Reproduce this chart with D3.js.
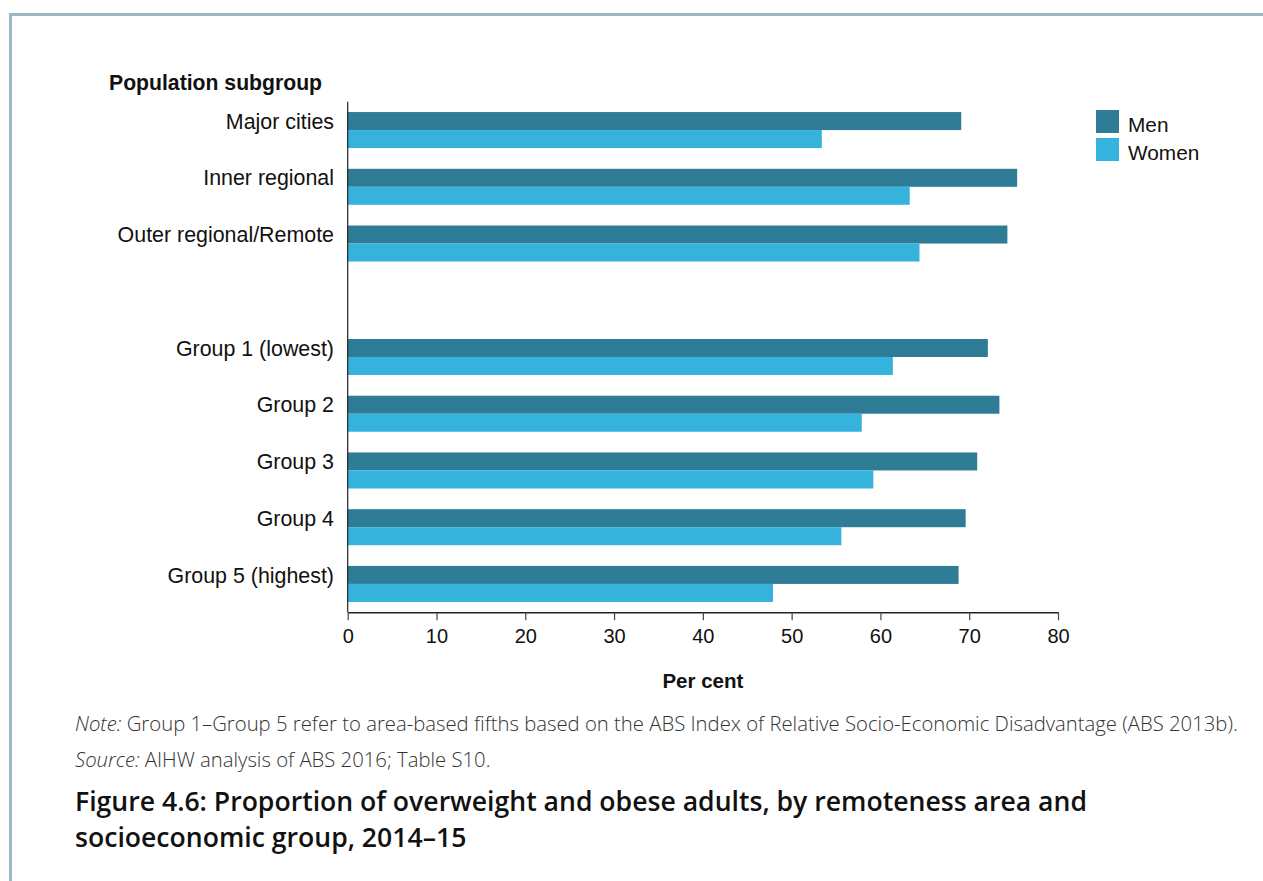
<!DOCTYPE html>
<html>
<head>
<meta charset="utf-8">
<script src="https://cdn.jsdelivr.net/npm/d3@7"></script>
<style>
  html, body { margin: 0; padding: 0; background: #fff; }
  svg { display: block; }
</style>
</head>
<body>
<svg id="chart" width="1263" height="881"></svg>
<script>
// ---- data ----
const slots = ["Major cities", "Inner regional", "Outer regional/Remote", "__gap__",
               "Group 1 (lowest)", "Group 2", "Group 3", "Group 4", "Group 5 (highest)"];
const categories = ["Major cities", "Inner regional", "Outer regional/Remote",
                    "Group 1 (lowest)", "Group 2", "Group 3", "Group 4", "Group 5 (highest)"];
const men   = [69.1, 75.4, 74.3, 72.1, 73.4, 70.9, 69.6, 68.8];
const women = [53.4, 63.3, 64.4, 61.4, 57.9, 59.2, 55.6, 47.9];
const seriesNames = ["Men", "Women"];
const xTicks = [0, 10, 20, 30, 40, 50, 60, 70, 80];

const colors = { Men: "#2e7c95", Women: "#36b3dc" };
const svg = d3.select("#chart");
const sans = "'Liberation Sans', Arial, sans-serif";
const open = "'Open Sans', sans-serif";

// border
svg.append("path")
  .attr("d", "M10.5,881 V14.5 H1263")
  .attr("fill", "none").attr("stroke", "#9fb6c6").attr("stroke-width", 3);

const x = d3.scaleLinear().domain([0, 80]).range([347.7, 1058]);
const y = d3.scaleBand().domain(slots).range([101.7, 612.3])
  .paddingInner(0.365).paddingOuter(0.1825);
const sub = d3.scaleBand().domain(seriesNames).range([0, y.bandwidth()]);

const data = categories.map((c, i) => ({ cat: c, Men: men[i], Women: women[i] }));

const g = svg.append("g");
const groups = g.selectAll("g.cat").data(data).join("g")
  .attr("class", "cat")
  .attr("transform", d => `translate(0,${y(d.cat)})`);
groups.selectAll("rect").data(d => seriesNames.map(s => ({ s, v: d[s] }))).join("rect")
  .attr("x", x(0))
  .attr("y", d => sub(d.s))
  .attr("width", d => x(d.v) - x(0))
  .attr("height", sub.bandwidth())
  .attr("fill", d => colors[d.s]);

// category labels (centered on men bar)
g.selectAll("text.cat").data(data).join("text")
  .attr("class", "cat")
  .attr("x", 334)
  .attr("y", d => y(d.cat) + sub("Men") + sub.bandwidth() / 2)
  .attr("dy", "0.36em")
  .attr("text-anchor", "end")
  .attr("font-family", sans).attr("font-size", 21.4).attr("fill", "#111")
  .text(d => d.cat);

// y axis line
svg.append("line")
  .attr("x1", x(0)).attr("x2", x(0))
  .attr("y1", 101.7).attr("y2", 612.3)
  .attr("stroke", "#222").attr("stroke-width", 1.2);

// x axis
const xAxis = svg.append("g")
  .attr("transform", "translate(0,612.3)")
  .call(d3.axisBottom(x).tickValues(xTicks).tickSize(8).tickPadding(9).tickSizeOuter(0));
xAxis.select(".domain").attr("stroke", "#222").attr("stroke-width", 1.4);
xAxis.selectAll(".tick line").attr("stroke", "#444").attr("stroke-width", 1.2);
xAxis.selectAll(".tick text")
  .attr("font-family", sans).attr("font-size", 20).attr("fill", "#111");

// axis titles
svg.append("text")
  .attr("x", (x(0) + x(80)) / 2).attr("y", 688)
  .attr("text-anchor", "middle")
  .attr("font-family", sans).attr("font-size", 20.5).attr("font-weight", "bold").attr("fill", "#111")
  .text("Per cent");
svg.append("text")
  .attr("x", 109).attr("y", 90)
  .attr("font-family", sans).attr("font-size", 21.2).attr("font-weight", "bold").attr("fill", "#111")
  .text("Population subgroup");

// legend
const leg = svg.append("g");
seriesNames.forEach((s, i) => {
  leg.append("rect")
    .attr("x", 1096).attr("y", 110 + i * 28)
    .attr("width", 23).attr("height", 23)
    .attr("fill", colors[s]);
  leg.append("text")
    .attr("x", 1128).attr("y", 132 + i * 28)
    .attr("font-family", sans).attr("font-size", 20.8).attr("fill", "#111")
    .text(s);
});

// notes
const note = svg.append("text").attr("x", 75).attr("y", 731)
  .attr("font-family", open).attr("font-size", 20.3).attr("font-weight", 300).attr("fill", "#333");
note.append("tspan").attr("font-style", "italic").text("Note:");
note.append("tspan").text(" Group 1\u2013Group 5 refer to area-based fifths based on the ABS Index of Relative Socio-Economic Disadvantage (ABS 2013b).");

const src = svg.append("text").attr("x", 75).attr("y", 767)
  .attr("font-family", open).attr("font-size", 20.3).attr("font-weight", 300).attr("fill", "#333");
src.append("tspan").attr("font-style", "italic").text("Source:");
src.append("tspan").text(" AIHW analysis of ABS 2016; Table S10.");

const titleLines = ["Figure 4.6: Proportion of overweight and obese adults, by remoteness area and",
                    "socioeconomic group, 2014\u201315"];
titleLines.forEach((t, i) => {
  svg.append("text").attr("x", 75).attr("y", 811 + i * 36)
    .attr("font-family", open).attr("font-size", 26.6).attr("font-weight", 600).attr("fill", "#111")
    .text(t);
});
</script>
</body>
</html>
